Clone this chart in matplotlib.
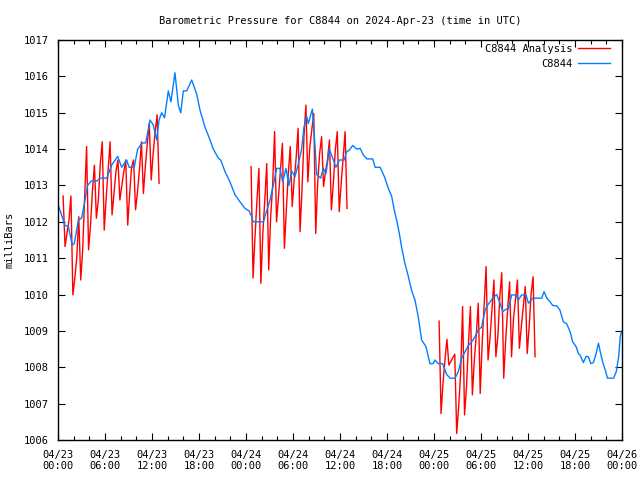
import pandas as pd
import numpy as np
import matplotlib
matplotlib.use('Agg')
import matplotlib.pyplot as plt
import matplotlib.dates as mdates

day0 = pd.Timestamp('2024-04-23 00:00')

# observed station pressure: hours after 04/23 00:00 UTC, millibars
blue_hours = [0.0, 0.13, 0.9, 1.32, 1.83, 2.08, 2.6, 3.02, 3.45, 3.78, 4.22, 4.93,
              5.37, 6.22, 6.85, 7.62, 8.13, 8.77, 9.07, 9.73, 10.17, 10.77, 11.2,
              11.75, 12.17, 12.6, 12.9, 13.23, 13.6, 14.08, 14.42, 14.93, 15.37,
              15.67, 16.0, 16.43, 17.07, 17.72, 18.13, 18.77, 19.32, 19.83, 20.47,
              20.77, 21.32, 21.95, 22.6, 23.23, 23.87, 24.4, 24.72, 24.93, 26.22,
              26.63, 27.07, 27.48, 27.92, 28.33, 28.68, 29.1, 29.48, 29.83, 30.25,
              30.68, 31.1, 31.4, 31.75, 31.95, 32.47, 32.82, 33.02, 33.53, 33.87,
              34.22, 34.63, 35.07, 35.48, 35.92, 36.52, 36.85, 37.2, 37.62, 38.13,
              38.57, 38.98, 39.42, 40.18, 40.48, 41.12, 41.67, 42.17, 42.6, 42.93,
              43.23, 43.57, 43.87, 44.28, 44.72, 45.13, 45.57, 45.98, 46.42, 46.97,
              47.48, 47.9, 48.12, 48.55, 49.1, 49.62, 50.05, 50.68, 51.1, 51.53,
              51.97, 52.38, 52.82, 53.23, 53.67, 54.08, 54.52, 54.82, 55.15, 55.67,
              56.0, 56.43, 56.77, 57.2, 57.48, 57.92, 58.47, 58.77, 59.2, 59.75,
              60.05, 60.6, 61.12, 61.75, 62.05, 62.4, 62.82, 63.15, 63.67, 64.08,
              64.52, 64.93, 65.37, 65.7, 66.13, 66.43, 66.63, 67.07, 67.42, 67.7,
              68.02, 68.35, 68.7, 69.0, 69.22, 69.55, 69.85, 70.15, 70.92, 71.27,
              71.57, 71.78, 71.95]
blue_mb = [1012.45, 1012.4, 1011.9, 1011.87, 1011.36, 1011.4, 1012.05, 1012.1, 1012.6,
           1013.0, 1013.12, 1013.12, 1013.2, 1013.2, 1013.56, 1013.8, 1013.5, 1013.7,
           1013.5, 1013.5, 1014.0, 1014.17, 1014.17, 1014.8, 1014.66, 1014.25, 1014.8,
           1015.0, 1014.86, 1015.6, 1015.3, 1016.1, 1015.2, 1015.0, 1015.6, 1015.6,
           1015.9, 1015.5, 1015.07, 1014.6, 1014.3, 1014.0, 1013.75, 1013.7, 1013.38,
           1013.1, 1012.74, 1012.55, 1012.37, 1012.3, 1012.14, 1012.0, 1012.0, 1012.3,
           1012.6, 1013.0, 1013.47, 1013.47, 1013.1, 1013.47, 1013.0, 1013.4, 1013.24,
           1013.6, 1014.0, 1014.6, 1014.9, 1014.7, 1015.1, 1014.07, 1013.3, 1013.2,
           1013.47, 1013.33, 1014.0, 1013.75, 1013.5, 1013.7, 1013.7, 1013.93, 1013.97,
           1014.1, 1014.0, 1014.02, 1013.84, 1013.73, 1013.73, 1013.5, 1013.5, 1013.24,
           1012.92, 1012.7, 1012.32, 1012.05, 1011.68, 1011.3, 1010.86, 1010.5, 1010.12,
           1009.85, 1009.4, 1008.75, 1008.57, 1008.1, 1008.1, 1008.2, 1008.1, 1008.1,
           1007.8, 1007.7, 1007.7, 1007.88, 1008.25, 1008.43, 1008.6, 1008.7, 1008.84,
           1009.04, 1009.1, 1009.57, 1009.7, 1009.8, 1009.94, 1010.0, 1009.76, 1009.53,
           1009.6, 1009.6, 1009.99, 1009.99, 1009.85, 1009.99, 1009.99, 1009.76, 1009.9,
           1009.9, 1009.9, 1010.08, 1009.9, 1009.8, 1009.7, 1009.69, 1009.57, 1009.25,
           1009.2, 1008.98, 1008.7, 1008.57, 1008.38, 1008.34, 1008.13, 1008.3, 1008.29,
           1008.1, 1008.13, 1008.38, 1008.66, 1008.43, 1008.13, 1007.93, 1007.7, 1007.7,
           1007.88, 1008.29, 1008.84, 1009.0]

# analysis runs, one value every 15 minutes from the start time (None = missing)
red_starts = ['2024-04-23 00:39', '2024-04-24 00:39', '2024-04-25 00:39']
red_day1 = [1012.71,
            1011.32, 1011.68, 1012.05, 1012.71,
            1009.99, 1010.45, 1011.04, 1012.14,
            1010.40, 1011.23, 1012.65, 1014.07,
            1011.23, 1011.90, 1012.87, 1013.56,
            1012.10, 1012.60, 1013.61, 1014.20,
            1011.77, 1012.65, 1013.43, 1014.20,
            1012.19, 1012.78, 1013.38, 1013.70,
            1012.60, 1013.00, 1013.38, 1013.70,
            1011.91, 1012.78, 1013.52, 1013.70,
            1012.33, 1012.83, 1013.43, 1014.20,
            1012.78, 1013.52, 1014.16, 1014.71,
            1013.15, 1013.88, 1014.48, 1014.94,
            1013.06]
red_day2 = [1013.52,
            1010.45, 1011.59, 1012.60, 1013.47,
            1010.31, 1011.68, 1012.60, 1013.60,
            1010.68, 1012.14, 1013.00, 1014.48,
            1012.00, 1012.69, 1013.43, 1014.16,
            1011.27, 1012.33, 1013.33, 1014.07,
            1012.42, 1013.15, 1013.75, 1014.57,
            1011.73, 1012.88, 1014.34, 1015.21,
            1013.10, 1014.07, 1014.53, 1014.98,
            1011.68, 1013.06, 1013.88, 1014.34,
            1012.97, 1013.38, 1013.70, 1014.25,
            1012.33, 1013.06, 1013.97, 1014.48,
            1012.28, 1013.06, 1013.75, 1014.48,
            1012.37]
red_day3 = [1009.27,
            1006.73, 1007.56, 1008.20, 1008.77,
            1008.06, None, None, 1008.36,
            1006.18, 1006.92, 1007.83, 1009.67,
            1006.69, 1007.47, 1008.66, 1009.67,
            1007.24, 1008.20, 1008.89, 1009.76,
            1007.28, 1008.66, 1009.71, 1010.77,
            1008.20, 1008.80, 1009.58, 1010.40,
            1008.29, 1008.84, 1009.94, 1010.60,
            1007.70, 1008.75, 1009.58, 1010.35,
            1008.29, 1009.35, 1009.85, 1010.40,
            1008.52, 1009.12, 1009.67, 1010.22,
            1008.38, 1009.12, 1010.03, 1010.49,
            1008.29]

plt.rcParams['font.family'] = ['DejaVu Sans Mono']
fs = 7.5
fig = plt.figure(figsize=(6.4, 4.8), dpi=100)
ax = fig.add_axes([58/640, 40/480, 564/640, 400/480])

label = 'C8844 Analysis'
for start, vals in zip(red_starts, [red_day1, red_day2, red_day3]):
    idx = pd.date_range(start, periods=len(vals), freq='15min')
    s = pd.Series(vals, index=idx, dtype=float).dropna()
    ax.plot(s.index, s.values, color='#ff0000', lw=1.0, label=label)
    label = None

blue_t = day0 + pd.to_timedelta(blue_hours, unit='h')
ax.plot(blue_t, blue_mb, color='#0080ff', lw=1.0, label='C8844')

ax.set_xlim(day0, day0 + pd.Timedelta(hours=72))
ax.set_ylim(1006, 1017)
ax.set_yticks(np.arange(1006, 1018, 1))
ax.xaxis.set_major_locator(mdates.HourLocator(byhour=[0, 6, 12, 18]))
ax.xaxis.set_minor_locator(mdates.HourLocator(byhour=range(0, 24, 2)))
ax.xaxis.set_major_formatter(mdates.DateFormatter('%m/%d\n%H:%M'))
ax.tick_params(which='both', direction='in', top=True, right=True, labelsize=fs)
ax.tick_params(which='major', length=5, width=0.8, pad=7)
ax.tick_params(which='minor', length=3, width=0.8)
for sp in ax.spines.values():
    sp.set_linewidth(1.0)

ax.set_ylabel('milliBars', fontsize=fs, labelpad=6)
ax.set_title('Barometric Pressure for C8844 on 2024-Apr-23 (time in UTC)', fontsize=fs, pad=11.5)
ax.legend(loc='upper right', frameon=False, markerfirst=False, fontsize=fs,
          handlelength=3.1, labelspacing=0.45, borderaxespad=0.0, borderpad=0.0,
          handletextpad=0.5, bbox_to_anchor=(0.9787, 0.99))

fig.savefig('out.png', dpi=100)
